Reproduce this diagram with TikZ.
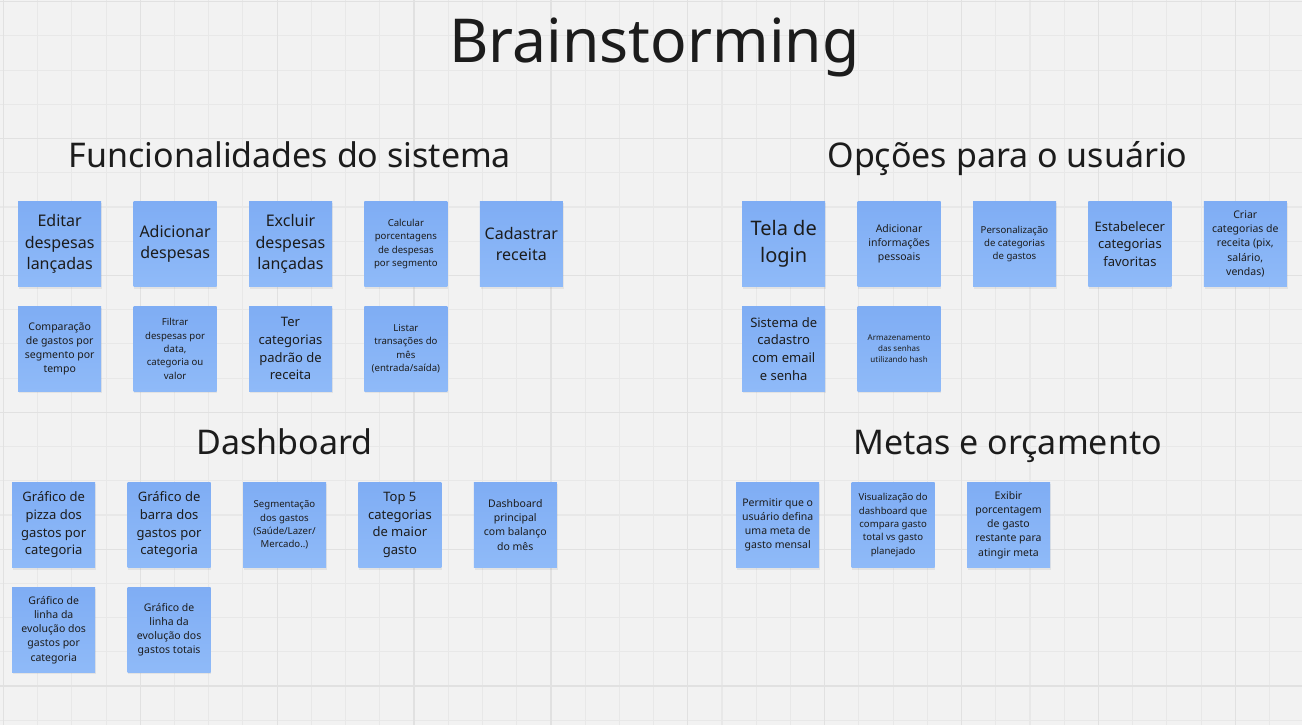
\documentclass[tikz,border=0pt]{standalone}
\usepackage{fontspec}
\setmainfont{Noto Sans}
\usepackage{xcolor}
\definecolor{board}{HTML}{F2F2F2}
\definecolor{gridminor}{HTML}{E8E8E8}
\definecolor{gridmajor}{HTML}{E1E1E1}
\definecolor{stickytop}{HTML}{7FADF4}
\definecolor{stickybottom}{HTML}{8FBAF8}
\definecolor{ink}{HTML}{1C1C1C}
\usepackage{tikz}
\usetikzlibrary{positioning, shadows}

\begin{document}
\begin{tikzpicture}[
            x=1pt, y=-1pt,
            node distance=19pt and 32pt,
            align=center,
            note/.style={rectangle, top color=stickytop, bottom color=stickybottom, draw=none, minimum width=83pt, minimum height=85.5pt, inner sep=2pt, text=ink, drop shadow={opacity=0.13, shadow xshift=0.8pt, shadow yshift=-1.8pt}},
            heading/.style={anchor=base, text=ink, font=\fontsize{34}{40}\selectfont},
            huge/.style={font=\fontsize{20}{27}\selectfont},
            big/.style={font=\fontsize{16}{21.5}\selectfont},
            mid/.style={font=\fontsize{13}{17.7}\selectfont},
            small/.style={font=\fontsize{10.5}{14.2}\selectfont},
            tiny/.style={font=\fontsize{9.6}{13.4}\selectfont},
            mini/.style={font=\fontsize{8}{11}\selectfont}
        ]
            % Board and grid
            \fill[board] (0,0) rectangle (1302,725);
            \useasboundingbox (0,0) rectangle (1302,725);
            \foreach \i in {0,...,37}
                \draw[gridminor, line width=1.1pt] ({3.4+34.22*\i},0) -- ({3.4+34.22*\i},725);
            \foreach \j in {0,...,21}
                \draw[gridminor, line width=1.1pt] (0,{1.7+34.22*\j}) -- (1302,{1.7+34.22*\j});
            \foreach \i in {0,...,9}
                \draw[gridmajor, line width=1.3pt] ({3.4+136.88*\i},0) -- ({3.4+136.88*\i},725);
            \foreach \j in {0,...,5}
                \draw[gridmajor, line width=1.3pt] (0,{1.7+136.88*\j}) -- (1302,{1.7+136.88*\j});

            % Titles
            \node[anchor=base, text=ink, font=\fontsize{60.6}{72}\selectfont] (title) at (654.5,62.3) {Brainstorming};
            \node[heading] (funcoes) at (290,167.3) {Funcionalidades do sistema};
            \node[heading] (opcoes) at (1007.5,167.3) {Opções para o usuário};
            \node[heading] (dashboard) at (284.7,454.3) {Dashboard};
            \node[heading] (metas) at (1007.5,454.3) {Metas e orçamento};

            % Funcionalidades do sistema
            \node[note, big, anchor=north west] (editar) at (18,201) {Editar\\despesas\\lançadas};
            \node[note, big, right=of editar] (adicionar) {Adicionar\\despesas};
            \node[note, big, right=of adicionar] (excluir) {Excluir\\despesas\\lançadas};
            \node[note, tiny, right=of excluir] (calcular) {Calcular\\porcentagens\\de despesas\\por segmento};
            \node[note, big, right=of calcular] (cadastrar) {Cadastrar\\receita};
            \node[note, small, below=of editar] (comparacao) {Comparação\\de gastos por\\segmento por\\tempo};
            \node[note, tiny, below=of adicionar] (filtrar) {Filtrar\\despesas por\\data,\\categoria ou\\valor};
            \node[note, mid, below=of excluir] (padrao) {Ter\\categorias\\padrão de\\receita};
            \node[note, tiny, below=of calcular] (listar) {Listar\\transações do\\mês\\(entrada/saída)};

            % Opcoes para o usuario
            \node[note, huge, anchor=north west] (login) at (742,201) {Tela de\\login};
            \node[note, small, right=of login] (pessoais) {Adicionar\\informações\\pessoais};
            \node[note, tiny, right=of pessoais] (personalizar) {Personalização\\de categorias\\de gastos};
            \node[note, mid, right=of personalizar] (favoritas) {Estabelecer\\categorias\\favoritas};
            \node[note, small, right=of favoritas] (criar) {Criar\\categorias de\\receita (pix,\\salário,\\vendas)};
            \node[note, mid, below=of login] (cadastro) {Sistema de\\cadastro\\com email\\e senha};
            \node[note, mini, below=of pessoais] (hash) {Armazenamento\\das senhas\\utilizando hash};

            % Dashboard
            \node[note, mid, anchor=north west] (pizza) at (12,482) {Gráfico de\\pizza dos\\gastos por\\categoria};
            \node[note, mid, right=of pizza] (barra) {Gráfico de\\barra dos\\gastos por\\categoria};
            \node[note, tiny, right=of barra] (segmentos) {Segmentação\\dos gastos\\(Saúde/Lazer/\\Mercado..)};
            \node[note, mid, right=of segmentos] (top) {Top 5\\categorias\\de maior\\gasto};
            \node[note, small, right=of top] (principal) {Dashboard\\principal\\com balanço\\do mês};
            \node[note, small, below=of pizza] (linhacat) {Gráfico de\\linha da\\evolução dos\\gastos por\\categoria};
            \node[note, small, below=of barra] (linhatotal) {Gráfico de\\linha da\\evolução dos\\gastos totais};

            % Metas e orcamento
            \node[note, small, anchor=north west] (meta) at (736,482) {Permitir que o\\usuário defina\\uma meta de\\gasto mensal};
            \node[note, tiny, right=of meta] (planejado) {Visualização do\\dashboard que\\compara gasto\\total vs gasto\\planejado};
            \node[note, small, right=of planejado] (restante) {Exibir\\porcentagem\\de gasto\\restante para\\atingir meta};
        \end{tikzpicture}
\end{document}
